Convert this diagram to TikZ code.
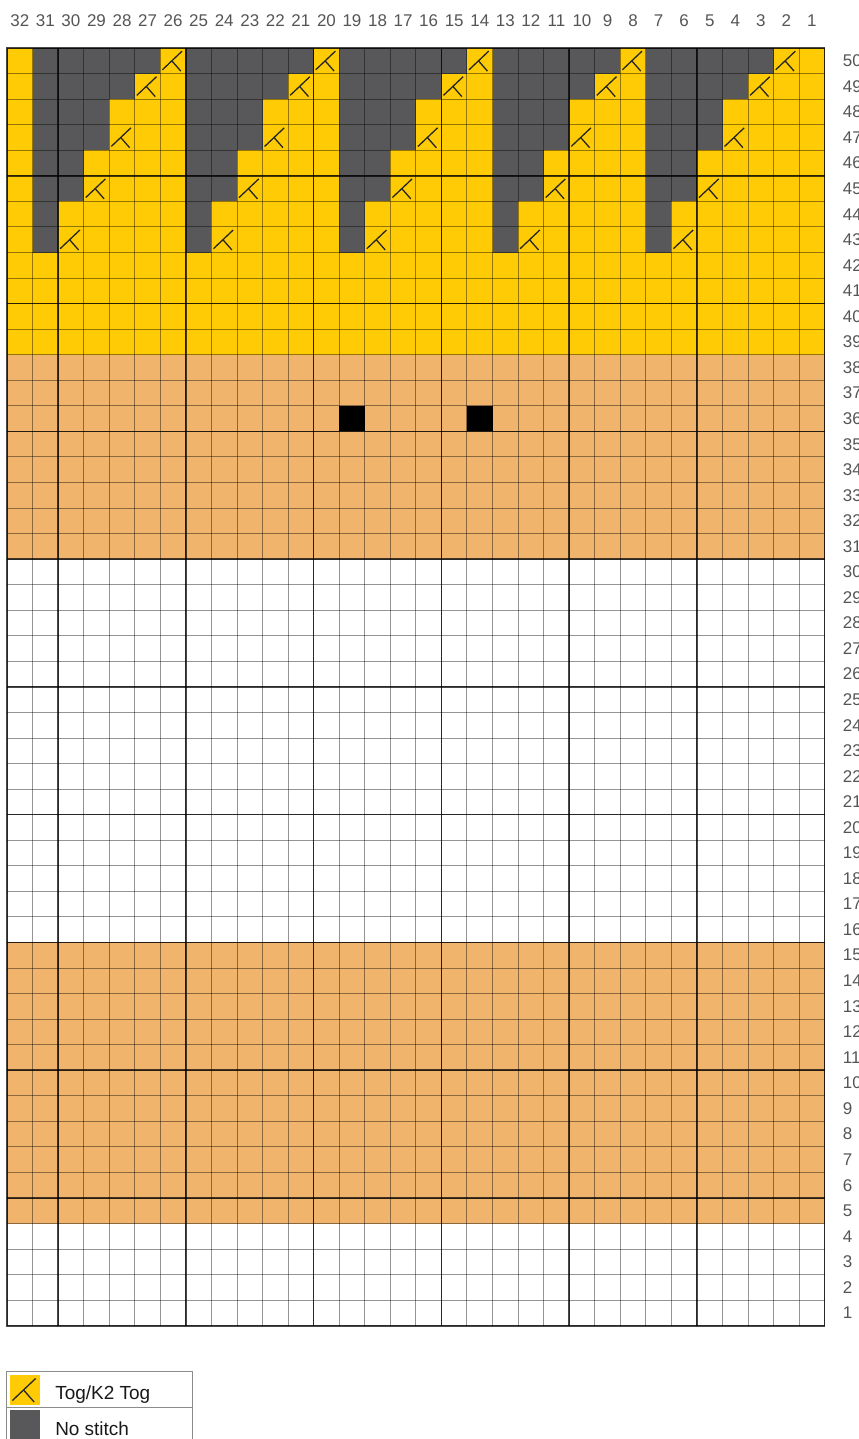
\documentclass[tikz,border=0pt]{standalone}
\usepackage{fontspec}
\setmainfont{Liberation Sans}
\usetikzlibrary{positioning}

\definecolor{togyellow}{HTML}{FFCB05}
\definecolor{nostitch}{HTML}{58585A}
\definecolor{bandtan}{HTML}{F0B46C}
\definecolor{labelgray}{HTML}{555555}

\tikzset{
  thinline/.style={black, opacity=0.42, line width=1pt},
  thickline/.style={black, opacity=0.72, line width=1.5pt},
  togline/.style={black!85, line width=1.3pt},
  numlabel/.style={text=labelgray, inner sep=0pt, font=\fontsize{17}{17}\selectfont},
  keytext/.style={text=black!90, inner sep=0pt, anchor=base west, font=\fontsize{19}{19}\selectfont},
  keybox/.style={draw=black!45, line width=0.8pt},
  pics/togmark/.style={code={
    \draw[togline] (0.85,0.88) -- (0.08,0.15);
    \draw[togline] (0.45,0.5) -- (0.8,0.1);
  }},
}

\begin{document}
\begin{tikzpicture}[x=0.9cm, y=0.9cm]
\useasboundingbox (-0.2745,-4.431) rectangle (33.333,51.882);

% colour bands (row r sits between r-1 and r)
\fill[white] (0,0) rectangle (32,4);
\fill[bandtan] (0,4) rectangle (32,15);
\fill[white] (0,15) rectangle (32,30);
\fill[bandtan] (0,30) rectangle (32,38);
\fill[togyellow] (0,38) rectangle (32,50);

% row 36, stitches 19 and 14
\fill[black] (13,35) rectangle (14,36);
\fill[black] (18,35) rectangle (19,36);

% no stitch wedges
\foreach \r/\d in {50/5,49/4,48/3,47/3,46/2,45/2,44/1,43/1}
  \foreach \m in {0,...,4}
    \fill[nostitch] ({1+6*\m},\r-1) rectangle ({1+6*\m+\d},\r);

% tog stitches
\foreach \r/\d in {50/5,49/4,47/3,45/2,43/1}
  \foreach \m in {0,...,4}
    \pic at ({1+6*\m+\d},\r-1) {togmark};

% grid
\foreach \i in {0,...,32}
  \draw[thinline] (\i,0) -- (\i,50);
\foreach \j in {0,...,50}
  \draw[thinline] (0,\j) -- (32,\j);
\foreach \i in {2,7,...,27}
  \draw[thickline] (\i,0) -- (\i,50);
\foreach \j in {5,10,...,45}
  \draw[thickline] (0,\j) -- (32,\j);
\draw[thickline] (0,0) rectangle (32,50);

% stitch and row numbers
\foreach \n in {1,...,32}
  \node[numlabel] (col\n) at ({32-\n+0.5},51.06) {\n};
\foreach \r in {1,...,50}
  \node[numlabel, anchor=west] (row\r) at (32.7,\r-0.5) {\r};

% key
\draw[keybox] (-0.04,-1.79) rectangle (7.24,-3.18);
\draw[keybox] (-0.04,-3.18) rectangle (7.24,-4.8);
\fill[togyellow] (0.118,-3.10) rectangle (1.294,-1.92);
\pic[scale=1.176] at (0.118,-3.10) {togmark};
\fill[nostitch] (0.118,-4.7) rectangle (1.294,-3.29);
\node[keytext] (togkey) at (1.88,-2.90) {Tog/K2 Tog};
\node[keytext] (nokey) at (1.88,-4.31) {No stitch};
\end{tikzpicture}
\end{document}
